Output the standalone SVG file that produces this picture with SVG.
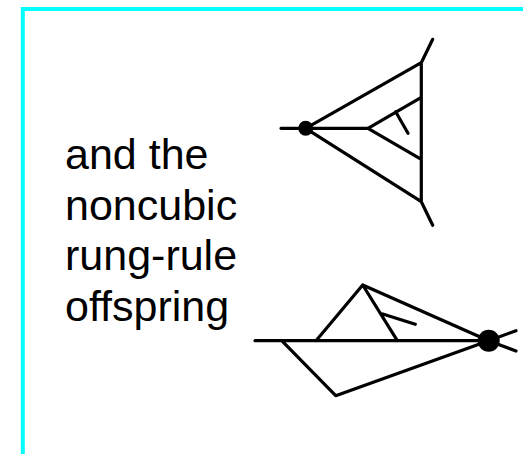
<svg xmlns="http://www.w3.org/2000/svg" width="523" height="454" viewBox="0 0 523 454">
<style>
.l{fill:none;stroke:#000;stroke-width:3.2;stroke-linecap:round;stroke-linejoin:round}
.t{font-family:"Liberation Sans",Arial,sans-serif;font-size:43px;fill:#000}
</style>
<rect width="523" height="454" fill="#fff"/>
<path d="M22.8 454V9H523" fill="none" stroke="#00ffff" stroke-width="4"/>
<g id="label" class="t">
<text x="65" y="169">and the</text>
<text x="65" y="219.5">noncubic</text>
<text x="65" y="270">rung-rule</text>
<text x="65" y="320.5">offspring</text>
</g>
<g id="connectors">
<path class="l" d="M281 128.3H368M305.7 128.3L421.3 62.7V201.7L305.7 128.3M432.7 39.3L421.3 62.7M432.7 225.3L421.3 201.7M368 128.3L421.3 97.3M368 128.3L421.3 159.3M395.7 111.7L408 133.3"/>
<path class="l" d="M255 340.7H488.7M316 340.7L362.7 285L397.3 340.7M362.7 285L488.7 340.7M281.7 340.7L335.7 395.7L488.7 340.7M382.7 314L415.3 324.3M488.7 340.7L516 330.7M488.7 340.7L516 351"/>
</g>
<g id="node-top"><circle cx="305.7" cy="128.3" r="7.5"/></g>
<g id="node-bottom"><circle cx="488.7" cy="340.7" r="11"/></g>
</svg>
